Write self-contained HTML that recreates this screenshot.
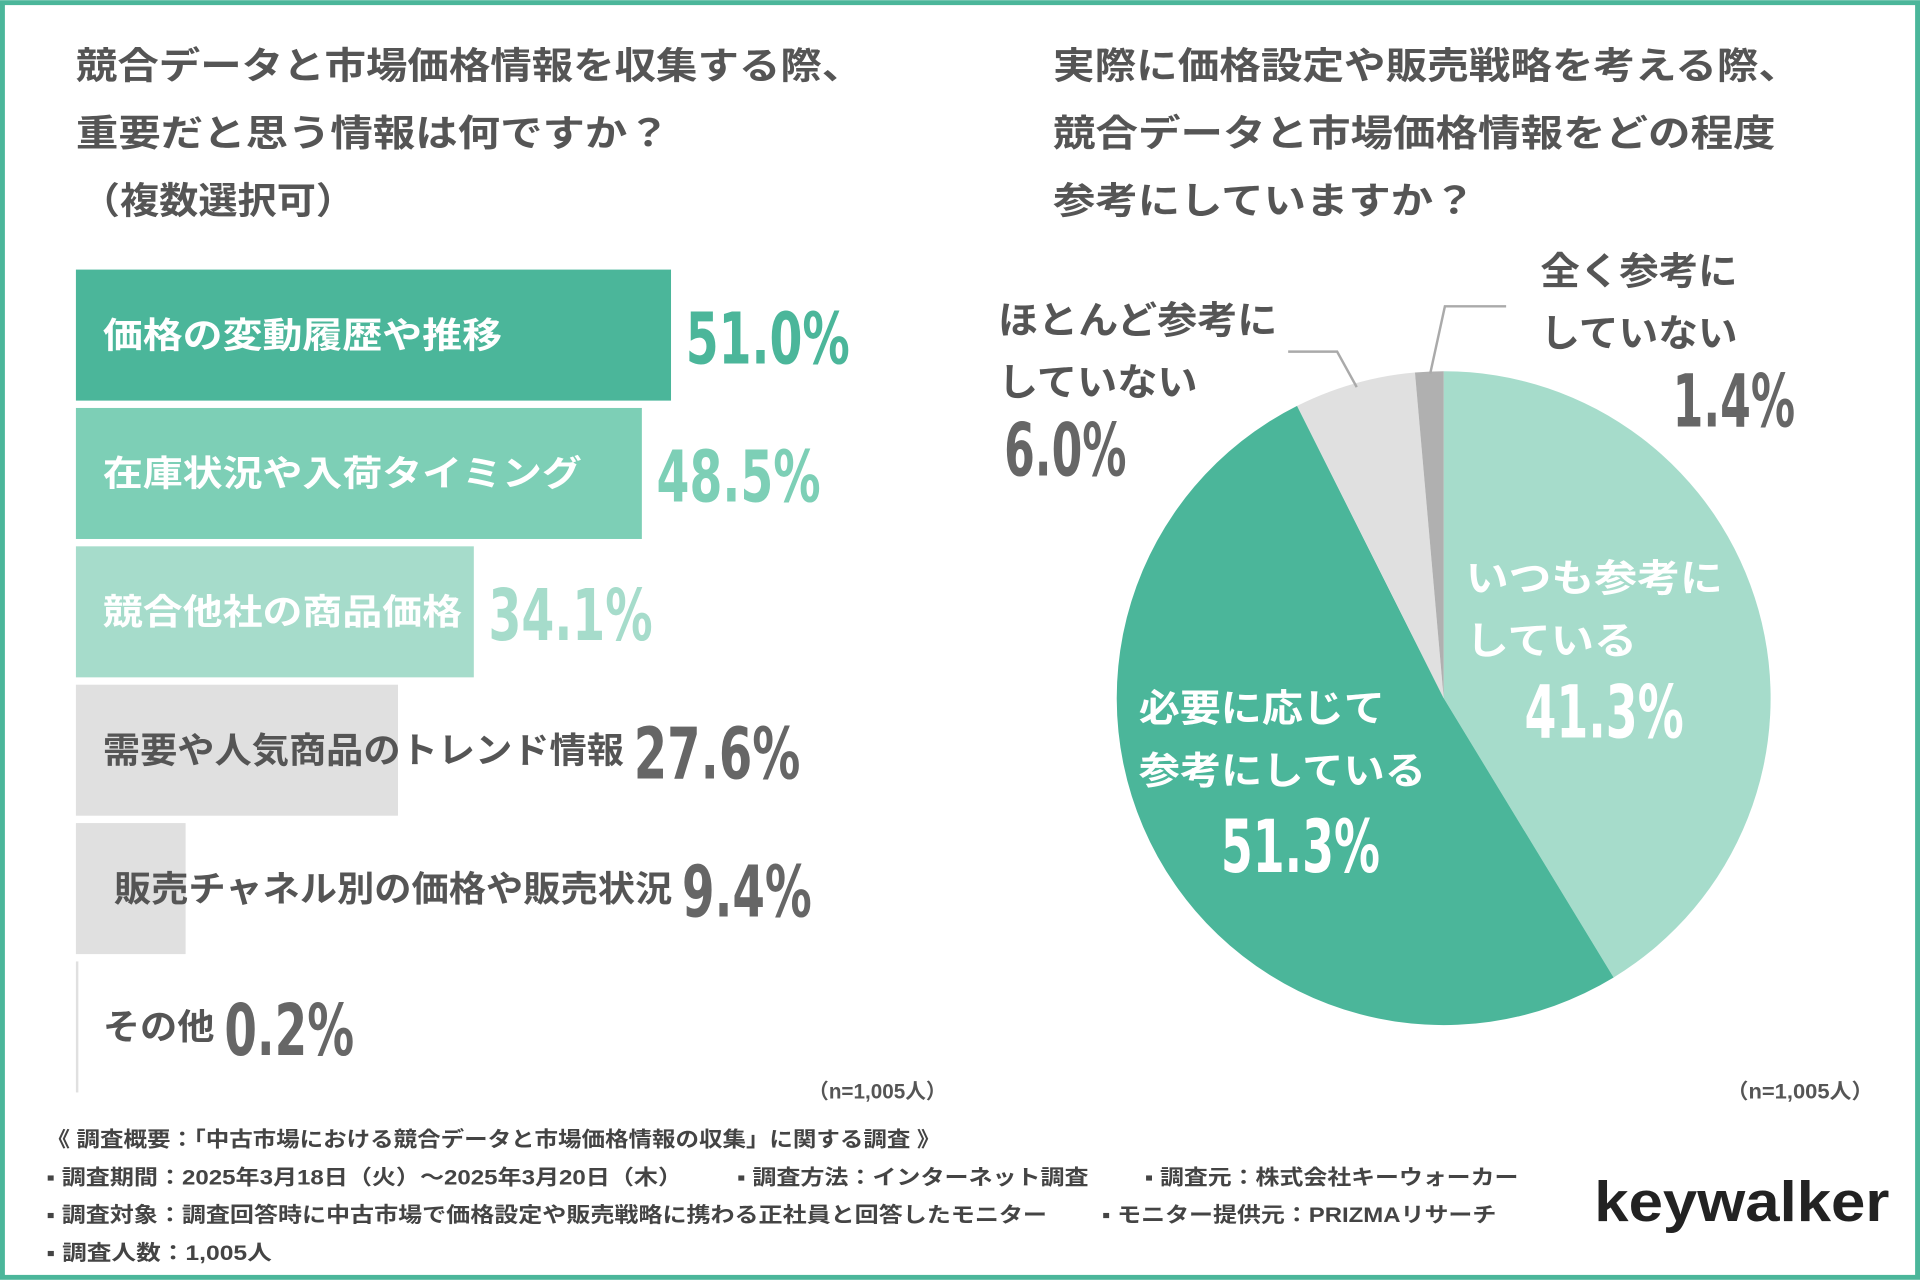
<!DOCTYPE html>
<html><head><meta charset="utf-8"><style>
html,body{margin:0;padding:0;background:#fff;}
svg{display:block;}
text{font-family:"Liberation Sans","Noto Sans CJK JP",sans-serif;font-weight:bold;}
.num{font-family:"DejaVu Sans Condensed","Liberation Sans",sans-serif;font-weight:bold;}
</style></head><body>
<svg id="chart" width="1920" height="1280" viewBox="0 0 1568 1045" xmlns="http://www.w3.org/2000/svg">
<rect x="2" y="2" width="1564" height="1041" fill="#fff" stroke="#4bb69a" stroke-width="4"/>
<g fill="#555" font-size="30">
<text x="62" y="64" textLength="643" lengthAdjust="spacingAndGlyphs">競合データと市場価格情報を収集する際、</text>
<text x="62" y="119" textLength="485" lengthAdjust="spacingAndGlyphs">重要だと思う情報は何ですか？</text>
<text x="66" y="174" textLength="224" lengthAdjust="spacingAndGlyphs">（複数選択可）</text>
</g>
<g fill="#555" font-size="30">
<text x="860" y="64" textLength="610" lengthAdjust="spacingAndGlyphs">実際に価格設定や販売戦略を考える際、</text>
<text x="860" y="119" textLength="590" lengthAdjust="spacingAndGlyphs">競合データと市場価格情報をどの程度</text>
<text x="860" y="174" textLength="345" lengthAdjust="spacingAndGlyphs">参考にしていますか？</text>
</g>
<g id="bars"></g>
<g id="pie"></g>
<text x="660" y="897" font-size="17" fill="#555" textLength="113" lengthAdjust="spacingAndGlyphs">（n=1,005人）</text>
<text x="1410" y="897" font-size="17" fill="#555" textLength="120" lengthAdjust="spacingAndGlyphs">（n=1,005人）</text>
<g fill="#444" font-size="17">
<text x="38" y="936" textLength="730" lengthAdjust="spacingAndGlyphs">《 調査概要：「中古市場における競合データと市場価格情報の収集」に関する調査 》</text>
<text x="38" y="967" textLength="519" lengthAdjust="spacingAndGlyphs">▪ 調査期間：2025年3月18日（火）～2025年3月20日（木）</text>
<text x="602" y="967" textLength="287" lengthAdjust="spacingAndGlyphs">▪ 調査方法：インターネット調査</text>
<text x="935" y="967" textLength="305" lengthAdjust="spacingAndGlyphs">▪ 調査元：株式会社キーウォーカー</text>
<text x="38" y="998" textLength="817" lengthAdjust="spacingAndGlyphs">▪ 調査対象：調査回答時に中古市場で価格設定や販売戦略に携わる正社員と回答したモニター</text>
<text x="900" y="998" textLength="322" lengthAdjust="spacingAndGlyphs">▪ モニター提供元：PRIZMAリサーチ</text>
<text x="38" y="1029" textLength="184" lengthAdjust="spacingAndGlyphs">▪ 調査人数：1,005人</text>
</g>
<text x="1302" y="997" font-size="46" fill="#222" textLength="241" lengthAdjust="spacingAndGlyphs" style="font-family:'Liberation Sans',sans-serif;font-weight:bold">keywalker</text>
</svg>
<script>
const barLabels=["価格の変動履歴や推移","在庫状況や入荷タイミング","競合他社の商品価格","需要や人気商品のトレンド情報","販売チャネル別の価格や販売状況","その他"];
const barValues=[51.0,48.5,34.1,27.6,9.4,0.2];
const barColors=["#4bb69a","#7dcfb6","#a6dccb","#e0e0e0","#e0e0e0","#e0e0e0"];
const pieLabels=[["いつも参考に","している"],["必要に応じて","参考にしている"],["ほとんど参考に","していない"],["全く参考に","していない"]];
const pieValues=[41.3,51.3,6.0,1.4];
const pieColors=["#a6dccb","#4bb69a","#e0e0e0","#b0b0b0"];
const NS="http://www.w3.org/2000/svg";
function mk(tag,attrs,parent){const e=document.createElementNS(NS,tag);for(const k in attrs)e.setAttribute(k,attrs[k]);parent.appendChild(e);return e;}
// bars
const bx0=62,pxPer=486/51.0,by0=220,bstep=113,bh=107;
const xs=v=>bx0+v*pxPer;
const bg=document.getElementById('bars');
barValues.forEach((v,i)=>{
  const y=by0+i*bstep;
  const r=mk('rect',{x:bx0,y:y,width:Math.max(xs(v)-bx0,2),height:bh,fill:barColors[i]},bg);
  
  
  const inside=i<3;
  const lx=i===4?93:84;
  const cw=i<3?32.6:30.4;
  const n=[...barLabels[i]].length;
  const lw=n*cw;
  const t=mk('text',{x:lx,y:y+bh/2+10,'font-size':29,fill:inside?'#fff':'#555',textLength:lw,lengthAdjust:'spacingAndGlyphs'},bg);
  t.textContent=barLabels[i];
  
  
  const vx=Math.max(xs(v)+12,lx+lw+8);
  const vt=mk('text',{x:vx,y:y+bh/2+23,'font-size':58,'class':'num',fill:i===0?'#4bb69a':(i===1?'#7dcfb6':(i===2?'#a6dccb':'#666')),'textLength':i===3?136:(i>=4?106:134),'lengthAdjust':'spacingAndGlyphs'},bg);
  vt.textContent=v.toFixed(1)+'%';
  
  
});
// pie
const cx=1179,cy=570,R=267;
const pg=document.getElementById('pie');
const tot=pieValues.reduce((a,b)=>a+b,0);
let a0=0;
const pt=(ang,r)=>[cx+r*Math.sin(ang),cy-r*Math.cos(ang)];
pieValues.forEach((v,i)=>{
  const a1=a0+v/tot*2*Math.PI;
  const p0=pt(a0,R),p1=pt(a1,R);
  const large=(a1-a0)>Math.PI?1:0;
  const s=mk('path',{d:`M${cx},${cy}L${p0[0]},${p0[1]}A${R},${R} 0 ${large} 1 ${p1[0]},${p1[1]}Z`,fill:pieColors[i]},pg);
  
  
  a0=a1;
});
// pie labels
const lblPos=[[1197,483,1245,602,'#fff',35],[930,589,997,712,'#fff',33.5],[815,272,820,388,'#555',32.6],[1258,232,1366,348,'#555',32.2]];
pieLabels.forEach((ls,i)=>{
  const [x,y,vx,vy,c,cw]=lblPos[i];
  ls.forEach((l,j)=>{
    const t=mk('text',{x:x,y:y+j*51,'font-size':31,fill:c,textLength:[...l].length*cw,lengthAdjust:'spacingAndGlyphs'},pg);
    t.textContent=l;
    
    
  });
  const vt=mk('text',{x:vx,y:vy,'font-size':60,'class':'num',fill:c==='#fff'?'#fff':'#666',textLength:i>=2?100:130,lengthAdjust:'spacingAndGlyphs'},pg);
  vt.textContent=pieValues[i].toFixed(1)+'%';
  
  
});
const l1=mk('polyline',{points:'1052,287 1092,287 1108,316',fill:'none',stroke:'#aaa','stroke-width':2},pg);


const l2=mk('polyline',{points:'1230,250 1180,250 1168,305',fill:'none',stroke:'#aaa','stroke-width':2},pg);


</script>
</body></html>
